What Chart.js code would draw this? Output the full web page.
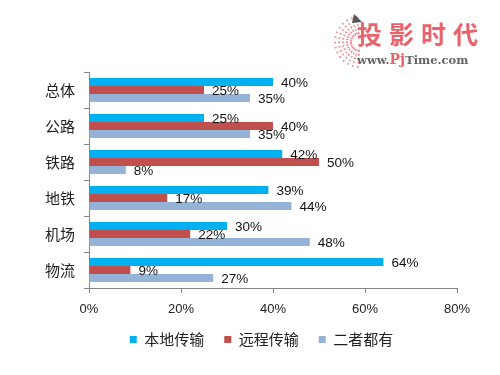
<!DOCTYPE html>
<html lang="zh">
<head>
<meta charset="UTF-8" />
<title>传输方式</title>
<script src="https://cdn.jsdelivr.net/npm/chart.js"></script>
<style>
  body { margin: 0; background: #fff; }
  #wrap { position: relative; width: 500px; height: 375px; }
  #logo { position: absolute; left: 357px; top: 18px; font-family: "Noto Sans CJK SC", sans-serif; }
  #logo .big { font-size: 25px; font-weight: bold; color: #e8646d; letter-spacing: 7px; line-height: 30px; }
  #logo .small { font-family: "DejaVu Serif", serif; font-size: 11.5px; font-weight: bold; color: #666; margin-top: 3px; }
  #logo .small b { color: #e8646d; font-size: 14px; }
  #burst { position: absolute; left: 318px; top: 10px; }
</style>
</head>
<body>
<div id="wrap">
  <canvas id="chart" width="500" height="375"></canvas>
  <svg id="burst" width="48" height="60"></svg>
  <div id="logo"><div class="big">投影时代</div><div class="small">www.<b>Pj</b>Time.com</div></div>
</div>
<script>
  // 数据
  const categories = ["总体", "公路", "铁路", "地铁", "机场", "物流"];
  const seriesNames = ["本地传输", "远程传输", "二者都有"];
  const localVals = [40, 25, 42, 39, 30, 64];
  const remoteVals = [25, 40, 50, 17, 22, 9];
  const bothVals = [35, 35, 8, 44, 48, 27];
  const xTicks = [0, 20, 40, 60, 80];

  const colors = ["#00b0f0", "#c0504d", "#95b3d7"];

  // 标志左侧的放射线装饰
  (function () {
    const svg = document.getElementById("burst");
    let html = "";
    for (let a = 95; a <= 265; a += 12) {
      const r = a * Math.PI / 180;
      const cx = 42, cy = 32;
      const x1 = cx + Math.cos(r) * 8, y1 = cy + Math.sin(r) * 8;
      const x2 = cx + Math.cos(r) * 28, y2 = cy + Math.sin(r) * 28;
      html += '<line x1="' + x1 + '" y1="' + y1 + '" x2="' + x2 + '" y2="' + y2 +
        '" stroke="#ef8a90" stroke-width="1.5" stroke-dasharray="2 2"/>';
    }
    html += '<polygon points="36,4 44,12 34,13" fill="#555"/>';
    svg.innerHTML = html;
  })();

  // 数据标签
  const labelPlugin = {
    id: "barLabels",
    afterDatasetsDraw(chart) {
      const ctx = chart.ctx;
      ctx.save();
      ctx.font = "13.5px 'Liberation Sans', sans-serif";
      ctx.fillStyle = "#111";
      ctx.textBaseline = "middle";
      chart.data.datasets.forEach((ds, i) => {
        chart.getDatasetMeta(i).data.forEach((bar, j) => {
          ctx.fillText(ds.data[j] + "%", bar.x + 8, bar.y + 1);
        });
      });
      ctx.restore();
    }
  };

  // 图例整体右移、上移一点
  const legendShift = {
    id: "legendShift",
    afterLayout(chart) {
      chart.legend.left += 33;
      chart.legend.right += 33;
      chart.legend.top -= 10;
      chart.legend.bottom -= 10;
    }
  };

  new Chart(document.getElementById("chart"), {
    type: "bar",
    data: {
      labels: categories,
      datasets: [
        { label: seriesNames[0], data: localVals, backgroundColor: colors[0] },
        { label: seriesNames[1], data: remoteVals, backgroundColor: colors[1] },
        { label: seriesNames[2], data: bothVals, backgroundColor: colors[2] }
      ]
    },
    options: {
      indexAxis: "y",
      responsive: false,
      animation: false,
      layout: { padding: { top: 72, right: 43, bottom: 8, left: 0 } },
      datasets: { bar: { categoryPercentage: 0.66, barPercentage: 1 } },
      scales: {
        x: {
          min: 0, max: 80,
          afterBuildTicks(s) { s.ticks = xTicks.map(v => ({ value: v })); },
          afterFit(s) { s.height = 34; },
          border: { color: "#868686" },
          grid: { drawOnChartArea: false, tickLength: 5, color: "#868686" },
          ticks: { padding: 9, color: "#222", font: { size: 13, family: "'Liberation Sans', sans-serif" }, callback: v => v + "%" }
        },
        y: {
          afterFit(s) { s.width = 89; },
          border: { color: "#868686" },
          grid: { drawOnChartArea: false, tickLength: 5, color: "#868686" },
          ticks: { padding: 9, color: "#222", font: { size: 15, family: "'Noto Sans CJK SC', sans-serif" } }
        }
      },
      plugins: {
        legend: {
          position: "bottom",
          labels: {
            boxWidth: 7, boxHeight: 7, padding: 20, color: "#222",
            font: { size: 15, family: "'Noto Sans CJK SC', sans-serif" }
          }
        },
        tooltip: { enabled: false }
      }
    },
    plugins: [labelPlugin, legendShift]
  });
</script>
</body>
</html>
